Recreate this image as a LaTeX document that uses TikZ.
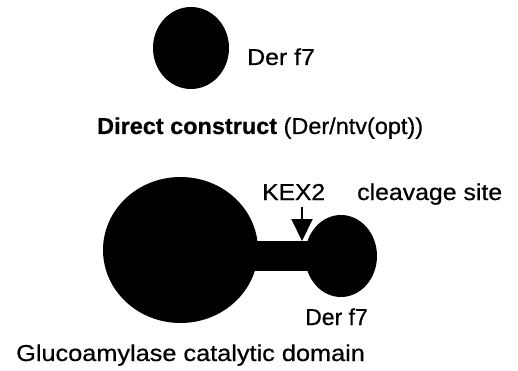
\documentclass[tikz,border=0pt]{standalone}
\usepackage{fontspec}
\setmainfont{Liberation Sans}[FakeBold=0.6,BoldFeatures={FakeBold=0.6}]
\usetikzlibrary{arrows.meta,shapes.geometric}
\newcommand{\xs}[2]{\scalebox{#1}[1]{#2}}
\begin{document}
\begin{tikzpicture}[x=1pt,y=-1pt,
  blob/.style={ellipse,fill=black,draw=none,inner sep=0pt},
  lbl/.style={anchor=base west,inner sep=0pt,font=\fontsize{23}{23}\selectfont},
  kexarrow/.style={line width=2pt,-{Triangle[width=21pt,length=22pt]}}]
\useasboundingbox (0,0) rectangle (518,371);
% top construct
\node[blob,minimum width=76pt,minimum height=82pt] (top) at (191,48) {};
\node[lbl] (topl) at (247,65) {\xs{1.08}{Der f7}};
\node[lbl] (title) at (97,134) {\xs{1.02}{\textbf{Direct construct} (Der/ntv(opt))}};
% fusion construct
\node[blob,minimum width=155pt,minimum height=146pt] (big) at (180.5,250) {};
\node[blob,minimum width=72pt,minimum height=82pt] (small) at (341,256) {};
\node[fill=black,inner sep=0pt,minimum width=90pt,minimum height=30pt] (bar) at (285,256) {};
\node[lbl] (kex) at (262,200) {\xs{1.07}{KEX2}};
\node[lbl] (cleave) at (357,200) {\xs{1.08}{cleavage site}};
\coordinate (kt) at (302,207);
\coordinate (kb) at (302,241);
\draw[kexarrow] (kt) -- (kb);
\node[lbl] (botl) at (305,325) {\xs{1.0}{Der f7}};
\node[lbl] (gluc) at (16,361) {\xs{1.1}{Glucoamylase catalytic domain}};
\end{tikzpicture}
\end{document}
